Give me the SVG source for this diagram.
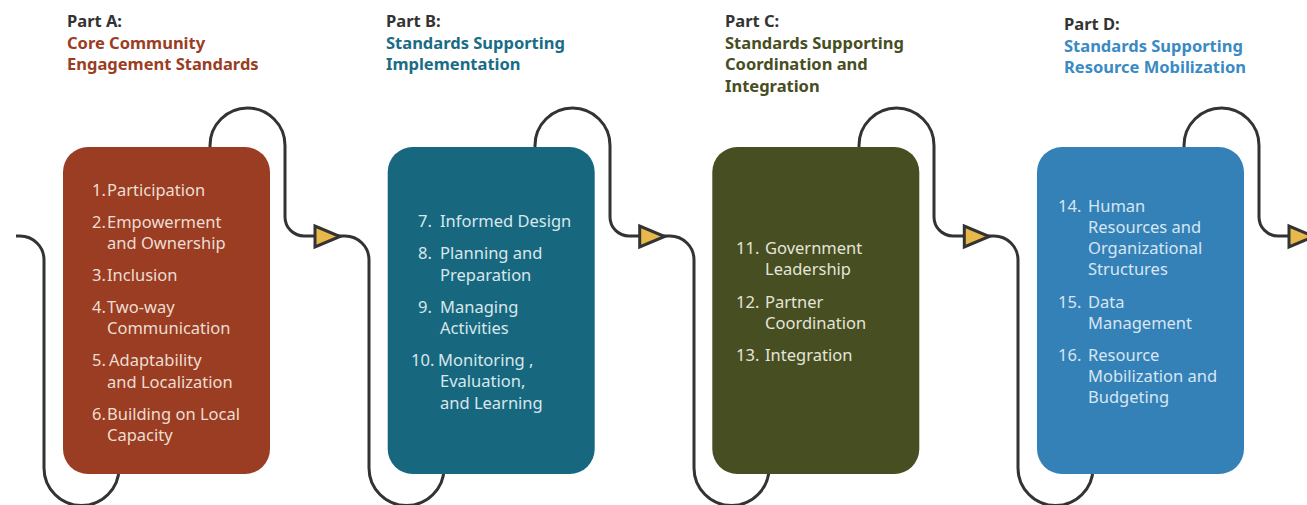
<svg xmlns="http://www.w3.org/2000/svg" width="1307" height="505" viewBox="0 0 1307 505">
<style>
.hd{font-family:"Noto Sans","Liberation Sans",sans-serif;font-weight:700;font-size:16.5px}
.pt{fill:#333333}
.it{font-family:"Noto Sans","Liberation Sans",sans-serif;font-size:16.5px}
.conn{fill:none;stroke:#333333;stroke-width:3}
.arr{fill:#E8B84A;stroke:#333333;stroke-width:3;stroke-linejoin:miter}
</style>
<defs>
<polygon id="arrowhead" class="arr" points="315,226 315,247 340,236.5"/>
</defs>
<g id="connectors">
<path class="conn" d="M16 236 H20 A24 24 0 0 1 44 260 V468 A37.5 37.5 0 0 0 119 468 V300 H210 V145.5 A37.5 37.5 0 0 1 285 145.5 V217 A19 19 0 0 0 304 236 H345 A24 24 0 0 1 369 260 V468 A37.5 37.5 0 0 0 444 468 V300 H535 V145.5 A37.5 37.5 0 0 1 610 145.5 V217 A19 19 0 0 0 629 236 H670 A24 24 0 0 1 694 260 V468 A37.5 37.5 0 0 0 769 468 V300 H859 V145.5 A37.5 37.5 0 0 1 934 145.5 V217 A19 19 0 0 0 953 236 H994 A24 24 0 0 1 1018 260 V468 A37.5 37.5 0 0 0 1093 468 V300 H1184 V145.5 A37.5 37.5 0 0 1 1259 145.5 V217 A19 19 0 0 0 1278 236 H1310"/>
<use href="#arrowhead"/>
<use href="#arrowhead" transform="translate(324.7 0)"/>
<use href="#arrowhead" transform="translate(649.3 0)"/>
<use href="#arrowhead" transform="translate(974 0)"/>
</g>
<g id="partA">
<rect x="63" y="147" width="207" height="327" rx="25" fill="#9A3D22"/>
<text class="hd pt" x="67" y="27">Part A:</text>
<text class="hd" fill="#9A3D22" x="67" y="49">Core Community</text>
<text class="hd" fill="#9A3D22" x="67" y="70">Engagement Standards</text>
<g class="it" fill="#EEDDD3">
<text x="92" y="196">1.</text><text x="107" y="196">Participation</text>
<text x="92" y="228">2.</text><text x="107" y="228">Empowerment</text>
<text x="107" y="249">and Ownership</text>
<text x="92" y="281">3.</text><text x="107" y="281">Inclusion</text>
<text x="92" y="313">4.</text><text x="107" y="313">Two-way</text>
<text x="107" y="334">Communication</text>
<text x="92" y="366">5.</text><text x="109" y="366">Adaptability</text>
<text x="107" y="388">and Localization</text>
<text x="92" y="420">6.</text><text x="107" y="420">Building on Local</text>
<text x="107" y="441">Capacity</text>
</g>
</g>
<g id="partB">
<rect x="387.7" y="147" width="207" height="327" rx="25" fill="#17677F"/>
<text class="hd pt" x="386" y="27">Part B:</text>
<text class="hd" fill="#1A6C86" x="386" y="49">Standards Supporting</text>
<text class="hd" fill="#1A6C86" x="386" y="70">Implementation</text>
<g class="it" fill="#D9E7EC">
<text x="418" y="227">7.</text><text x="440" y="227">Informed Design</text>
<text x="418" y="259">8.</text><text x="440" y="259">Planning and</text>
<text x="440" y="281">Preparation</text>
<text x="418" y="313">9.</text><text x="440" y="313">Managing</text>
<text x="440" y="334">Activities</text>
<text x="411" y="366">10.</text><text x="438" y="366">Monitoring ,</text>
<text x="440" y="387">Evaluation,</text>
<text x="440" y="409">and Learning</text>
</g>
</g>
<g id="partC">
<rect x="712.3" y="147" width="207" height="327" rx="25" fill="#474E22"/>
<text class="hd pt" x="725" y="27">Part C:</text>
<text class="hd" fill="#474E22" x="725" y="49">Standards Supporting</text>
<text class="hd" fill="#474E22" x="725" y="70">Coordination and</text>
<text class="hd" fill="#474E22" x="725" y="92">Integration</text>
<g class="it" fill="#E4E5D8">
<text x="736" y="254">11.</text><text x="765" y="254">Government</text>
<text x="765" y="275">Leadership</text>
<text x="736" y="308">12.</text><text x="765" y="308">Partner</text>
<text x="765" y="329">Coordination</text>
<text x="736" y="361">13.</text><text x="765" y="361">Integration</text>
</g>
</g>
<g id="partD">
<rect x="1037" y="147" width="207" height="327" rx="25" fill="#3481B8"/>
<text class="hd pt" x="1064" y="30">Part D:</text>
<text class="hd" fill="#3A8AC4" x="1064" y="52">Standards Supporting</text>
<text class="hd" fill="#3A8AC4" x="1064" y="73">Resource Mobilization</text>
<g class="it" fill="#D7E6F2">
<text x="1058" y="212">14.</text><text x="1088" y="212">Human</text>
<text x="1088" y="233">Resources and</text>
<text x="1088" y="254">Organizational</text>
<text x="1088" y="275">Structures</text>
<text x="1058" y="308">15.</text><text x="1088" y="308">Data</text>
<text x="1088" y="329">Management</text>
<text x="1058" y="361">16.</text><text x="1088" y="361">Resource</text>
<text x="1088" y="382">Mobilization and</text>
<text x="1088" y="403">Budgeting</text>
</g>
</g>
</svg>
